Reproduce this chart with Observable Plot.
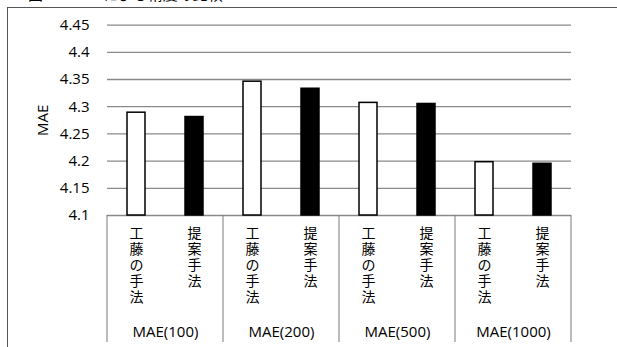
<!DOCTYPE html>
<html>
<head>
<meta charset="utf-8">
<script src="https://cdn.jsdelivr.net/npm/d3@7"></script>
<script src="https://cdn.jsdelivr.net/npm/@observablehq/plot@0.6"></script>
<style>
  html, body { margin: 0; padding: 0; background: #fff; overflow: hidden; }
  #wrap { position: relative; width: 617px; height: 347px; overflow: hidden; }
  #box {
    position: absolute; left: 7px; top: 7px; right: -10px; bottom: -10px;
    border-left: 1.5px solid #555; border-top: 1.5px solid #555;
  }
  #caption {
    position: absolute; left: 28px; top: -17px; margin: 0;
    font: 15px "Noto Sans CJK JP", "Open Sans", sans-serif; color: #000; white-space: nowrap;
  }
  #chart { position: absolute; left: 0; top: 0; }
</style>
</head>
<body>
<div id="wrap">
  <p id="caption">図 4　MAE による精度の比較</p>
  <div id="box"></div>
  <div id="chart"></div>
</div>
<script>
// Groups (evaluation settings) and the two methods compared in each
const groups = ["MAE(100)", "MAE(200)", "MAE(500)", "MAE(1000)"];
const methods = ["工藤の手法", "提案手法"];

// MAE per group
const kudoMAE = [4.289, 4.346, 4.307, 4.198];
const proposedMAE = [4.281, 4.333, 4.305, 4.195];

// Value axis
const yDomain = [4.1, 4.45];
const yTicks = [4.1, 4.15, 4.2, 4.25, 4.3, 4.35, 4.4, 4.45];

const rows = groups.flatMap((g, i) => [
  {group: g, method: methods[0], value: kudoMAE[i]},
  {group: g, method: methods[1], value: proposedMAE[i]}
]);

const chart = Plot.plot({
  width: 617,
  height: 342,
  marginLeft: 106,
  marginRight: 45,
  marginTop: 24.6,
  marginBottom: 127,
  style: {fontFamily: "'Open Sans', 'Noto Sans CJK JP', sans-serif", fontSize: "15px", color: "#000", background: "transparent"},
  facet: {data: rows, x: "group"},
  fx: {domain: groups, padding: 0, axis: "bottom", label: null, tickSize: 0, tickPadding: 111},
  x: {domain: methods, paddingInner: 0.69, paddingOuter: 0.345, axis: null},
  y: {
    domain: yDomain, ticks: yTicks, tickSize: 0, tickPadding: 18,
    tickFormat: d => String(d), label: "MAE", labelAnchor: "center", labelOffset: 70, labelArrow: false
  },
  marks: [
    // horizontal gridlines, repeated across every group
    Plot.ruleY(yTicks, {stroke: "#8a8a8a", strokeWidth: 1.3, facet: false}),
    Plot.barY(rows, {
      x: "method", y1: yDomain[0], y2: "value",
      fill: d => d.method === methods[0] ? "#fff" : "#000",
      stroke: "#000", strokeWidth: 1.5
    }),
    // method names, one character per line below each bar
    Plot.text(rows, {
      x: "method",
      text: d => [...d.method].join("\n"),
      frameAnchor: "bottom", lineAnchor: "top", dy: 11, lineHeight: 1.15,
      fontSize: 14, fill: "#000", fontFamily: "'Noto Sans CJK JP', sans-serif"
    })
  ]
});

const svg = d3.select(chart.tagName.toLowerCase() === "svg" ? chart : chart.querySelector("svg"));

// category table: vertical dividers at every group boundary, below the value axis
const fx = chart.scale("fx");
const y = chart.scale("y");
const edges = groups.map(g => fx.apply(g)).concat(fx.apply(groups[groups.length - 1]) + fx.bandwidth);
svg.append("g").attr("aria-label", "group dividers")
  .selectAll("line").data(edges).join("line")
  .attr("x1", d => d).attr("x2", d => d)
  .attr("y1", y.apply(yDomain[0])).attr("y2", 342)
  .attr("stroke", "#7a7a7a").attr("stroke-width", 1);

document.getElementById("chart").append(chart);
</script>
</body>
</html>
